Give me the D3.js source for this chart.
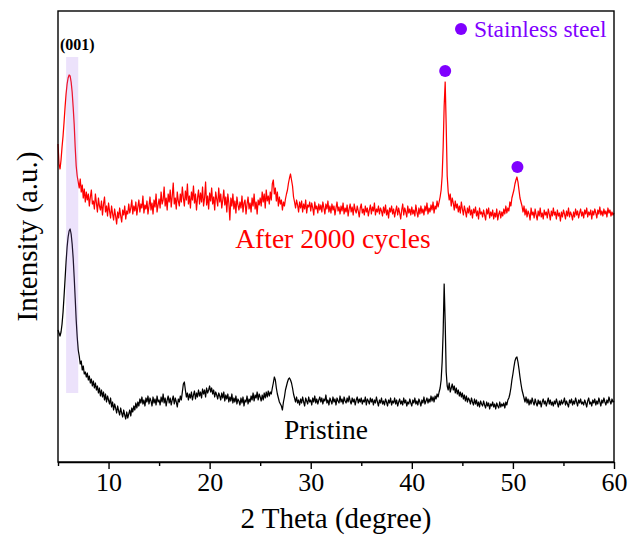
<!DOCTYPE html>
<html>
<head>
<meta charset="utf-8">
<script src="https://cdn.jsdelivr.net/npm/d3@7"></script>
<style>
  html, body { margin: 0; padding: 0; background: #fff; }
  svg { display: block; }
  text { font-family: "Liberation Serif", "Times New Roman", serif; }
</style>
</head>
<body>
<svg id="chart" width="633" height="542"></svg>
<script>
// ---------------- data ----------------
const twoThetaStart = 5.0;      // degrees
const twoThetaStep = 0.1;       // degrees, sampling of both patterns

// Pristine pattern (displayed intensity, a.u.), one row per degree from 5 to 59, then 60
const pristine = [
1320,1290,1260,1300,1380,1500,1660,1830,2000,2150,
2250,2310,2330,2280,2180,2040,1850,1640,1420,1250,
1120,1060,980,1010,920,960,880,900,850,890,
820,860,790,830,760,810,740,790,720,760,
690,740,660,720,650,700,620,680,600,660,
620,580,640,550,600,520,580,540,490,560,
510,470,540,490,450,520,470,430,500,440,
480,520,460,540,500,560,520,590,540,600,
560,630,590,650,580,620,560,640,600,660,
580,640,610,560,650,590,630,570,660,600,
620,570,650,600,680,590,640,560,620,660,
590,640,570,620,660,580,640,600,550,630,
600,660,620,700,780,800,720,650,690,620,
680,640,700,620,670,710,630,690,650,720,
660,700,640,730,680,720,650,740,690,720,
760,700,740,680,720,650,700,670,630,690,
660,620,690,640,700,610,670,630,680,600,
650,610,680,590,640,600,660,580,630,610,
570,640,590,650,560,620,600,660,580,630,
600,660,620,690,610,670,640,700,620,680,
650,610,670,620,690,640,700,650,710,660,
700,680,740,790,850,820,740,680,640,600,
580,560,520,600,650,720,760,800,830,840,
820,790,740,680,640,600,650,590,620,570,
630,590,650,600,560,640,610,580,650,600,
620,570,640,600,660,590,630,580,620,650,
600,640,580,630,610,670,590,620,570,640,
610,580,650,600,630,570,640,610,590,660,
600,630,580,650,610,590,640,600,660,610,
580,640,600,630,570,620,650,590,630,600,
640,580,620,600,650,570,630,610,580,640,
600,630,570,620,590,650,600,560,620,590,
640,580,610,570,630,600,560,620,590,640,
570,610,590,640,580,620,560,600,630,580,
610,570,640,590,620,560,600,580,630,590,
560,620,590,640,580,610,570,630,600,560,
620,590,650,580,610,640,590,630,600,660,
610,650,600,660,630,680,650,700,740,820,
1000,1300,1780,1400,900,760,720,790,700,740,
780,720,760,690,740,680,720,660,700,650,
690,630,670,610,660,600,640,620,580,640,
600,570,630,580,620,560,600,550,610,580,
560,610,570,540,600,560,590,530,580,560,
600,550,580,530,590,560,540,600,550,580,
560,590,540,600,570,620,640,680,740,820,
880,950,1010,1040,1050,1000,930,850,780,720,
680,640,600,650,590,630,570,620,580,640,
600,570,630,590,560,620,580,610,550,600,
630,580,610,560,600,640,580,620,570,600,
560,610,580,630,590,550,610,570,620,580,
600,640,570,610,580,550,620,590,630,570,
610,580,640,600,560,620,590,630,580,600,
570,620,590,550,610,640,580,600,560,620,
590,630,570,610,580,640,600,560,620,590,
640,600,570,620,590,650,610,580,630,600,
610
];

// After 2000 cycles pattern (displayed intensity incl. vertical offset, a.u.)
const cycled = [
3180,2980,2930,3020,3150,3260,3400,3550,3680,3780,
3840,3870,3860,3800,3700,3550,3380,3150,2960,2860,
2800,2740,2830,2700,2770,2640,2730,2600,2700,2620,
2680,2560,2650,2720,2580,2610,2530,2680,2590,2500,
2640,2560,2520,2610,2470,2580,2650,2500,2560,2460,
2590,2510,2440,2560,2480,2420,2530,2460,2380,2500,
2440,2540,2460,2400,2520,2470,2560,2430,2510,2480,
2580,2490,2540,2620,2480,2560,2510,2600,2470,2550,
2620,2500,2580,2540,2660,2490,2570,2530,2610,2480,
2560,2650,2520,2590,2480,2620,2550,2680,2500,2570,
2630,2540,2700,2580,2620,2750,2560,2640,2520,2680,
2600,2720,2550,2660,2790,2580,2640,2530,2700,2610,
2560,2680,2600,2750,2640,2560,2710,2620,2780,2580,
2660,2540,2700,2620,2760,2590,2680,2520,2640,2720,
2580,2690,2600,2750,2560,2640,2800,2570,2660,2530,
2690,2610,2740,2580,2650,2520,2700,2630,2560,2740,
2600,2680,2540,2620,2720,2570,2650,2500,2680,2590,
2420,2640,2560,2680,2530,2610,2490,2650,2570,2520,
2600,2540,2660,2500,2590,2620,2480,2580,2650,2530,
2590,2500,2640,2560,2680,2530,2600,2480,2620,2570,
2640,2560,2700,2600,2680,2540,2720,2610,2660,2580,
2700,2620,2780,2820,2680,2740,2610,2700,2560,2650,
2580,2620,2520,2600,2560,2630,2680,2720,2790,2840,
2880,2820,2760,2650,2600,2540,2620,2570,2500,2600,
2540,2610,2500,2580,2530,2620,2490,2570,2550,2600,
2510,2590,2540,2470,2600,2530,2560,2490,2580,2520,
2570,2500,2600,2540,2480,2580,2530,2610,2500,2560,
2490,2580,2520,2560,2470,2540,2600,2510,2550,2480,
2560,2510,2590,2480,2540,2500,2570,2460,2530,2580,
2500,2550,2470,2580,2520,2490,2560,2510,2450,2540,
2580,2490,2530,2470,2560,2500,2540,2460,2520,2570,
2480,2550,2510,2590,2470,2530,2500,2560,2480,2540,
2510,2460,2550,2490,2570,2470,2520,2440,2540,2500,
2560,2480,2530,2450,2510,2560,2470,2540,2490,2430,
2520,2580,2470,2540,2500,2450,2560,2490,2530,2470,
2550,2480,2520,2460,2570,2500,2450,2540,2480,2560,
2490,2530,2470,2560,2510,2590,2480,2540,2500,2570,
2520,2600,2490,2560,2530,2610,2550,2600,2650,2720,
2860,3150,3560,3800,3370,2860,2700,2620,2680,2560,
2640,2590,2520,2610,2540,2580,2500,2560,2490,2600,
2530,2470,2560,2510,2450,2540,2490,2560,2470,2520,
2440,2530,2490,2550,2460,2510,2430,2540,2480,2500,
2450,2520,2470,2420,2530,2480,2540,2440,2500,2460,
2520,2430,2490,2450,2530,2420,2480,2510,2440,2500,
2460,2530,2480,2560,2490,2540,2510,2600,2560,2640,
2680,2720,2780,2820,2850,2800,2720,2640,2600,2560,
2500,2560,2470,2530,2450,2510,2480,2420,2540,2470,
2500,2440,2530,2470,2420,2510,2460,2540,2450,2490,
2430,2520,2470,2500,2440,2530,2480,2420,2510,2460,
2540,2470,2500,2430,2520,2460,2490,2410,2500,2450,
2520,2480,2430,2510,2460,2540,2450,2500,2470,2420,
2500,2450,2530,2470,2510,2440,2490,2530,2460,2500,
2440,2520,2480,2540,2450,2500,2470,2520,2430,2510,
2470,2530,2490,2440,2520,2480,2550,2470,2510,2460,
2530,2480,2510,2450,2540,2490,2520,2460,2500,2470,
2490
];

// Stainless steel reflections (marker positions)
const steelTheta = [43.3, 50.45];
const steelIntensity = [3910, 2950];

// (001) highlight band
const bandTheta = [5.8, 7.0];
const bandIntensity = [690, 4050];

const xTicks = [10, 20, 30, 40, 50, 60];
const xMinorTicks = [5, 15, 25, 35, 45, 55];
const xDomain = [5, 60];
const yDomain = [0, 4510];

// ---------------- layout ----------------
const W = 633, H = 542;
const margin = { left: 58, right: 19, top: 11, bottom: 80 };
const svg = d3.select("#chart");

const x = d3.scaleLinear().domain(xDomain).range([margin.left, W - margin.right]);
const y = d3.scaleLinear().domain(yDomain).range([H - margin.bottom, margin.top]);

const theta = i => twoThetaStart + i * twoThetaStep;

const line = d3.line()
  .x((d, i) => x(theta(i)))
  .y(d => y(d));

// curves
svg.append("path").datum(pristine)
  .attr("d", line).attr("fill", "none")
  .attr("stroke", "#000").attr("stroke-width", 1.25).attr("stroke-linejoin", "round");

svg.append("path").datum(cycled)
  .attr("d", line).attr("fill", "none")
  .attr("stroke", "#ff0000").attr("stroke-width", 1.25).attr("stroke-linejoin", "round");

// highlight band
svg.append("rect")
  .attr("x", x(bandTheta[0]))
  .attr("y", y(bandIntensity[1]))
  .attr("width", x(bandTheta[1]) - x(bandTheta[0]))
  .attr("height", y(bandIntensity[0]) - y(bandIntensity[1]))
  .attr("fill", "rgba(160,110,235,0.2)");

// steel markers
svg.selectAll("circle.steel").data(steelTheta).enter().append("circle")
  .attr("class", "steel")
  .attr("cx", d => x(d))
  .attr("cy", (d, i) => y(steelIntensity[i]))
  .attr("r", 6)
  .attr("fill", "#7f00ff");

// frame
const plotBottom = H - margin.bottom;
svg.append("rect")
  .attr("x", margin.left).attr("y", margin.top)
  .attr("width", W - margin.left - margin.right)
  .attr("height", plotBottom - margin.top)
  .attr("fill", "none").attr("stroke", "#000").attr("stroke-width", 1.4);

// x axis
const xAxis = d3.axisBottom(x).tickValues(xTicks).tickSize(7).tickSizeOuter(0).tickPadding(4);
const gx = svg.append("g").attr("transform", `translate(0,${plotBottom})`).call(xAxis);
gx.select(".domain").attr("stroke-width", 1.4);
gx.selectAll(".tick line").attr("stroke-width", 1.4);
gx.selectAll(".tick text")
  .attr("font-family", "'Liberation Serif', 'Times New Roman', serif")
  .attr("font-size", 26).attr("fill", "#000");

const xMinor = d3.axisBottom(x).tickValues(xMinorTicks).tickSize(4).tickSizeOuter(0).tickFormat("");
const gxm = svg.append("g").attr("transform", `translate(0,${plotBottom})`).call(xMinor);
gxm.select(".domain").remove();
gxm.selectAll(".tick line").attr("stroke-width", 1.4);

// axis titles
svg.append("text")
  .attr("x", (margin.left + W - margin.right) / 2).attr("y", 528)
  .attr("text-anchor", "middle").attr("font-size", 29).attr("fill", "#000")
  .text("2 Theta (degree)");

svg.append("text")
  .attr("transform", `translate(37,${(margin.top + plotBottom) / 2}) rotate(-90)`)
  .attr("text-anchor", "middle").attr("font-size", 29).attr("fill", "#000")
  .text("Intensity (a.u.)");

// annotations
svg.append("text")
  .attr("x", 60).attr("y", 50)
  .attr("font-size", 16).attr("font-weight", "bold").attr("fill", "#000")
  .text("(001)");

svg.append("text")
  .attr("x", 333).attr("y", 248)
  .attr("text-anchor", "middle").attr("font-size", 27.5).attr("fill", "#ff0000")
  .text("After 2000 cycles");

svg.append("text")
  .attr("x", 326).attr("y", 439)
  .attr("text-anchor", "middle").attr("font-size", 27.5).attr("fill", "#000")
  .text("Pristine");

// legend
svg.append("circle").attr("cx", 461).attr("cy", 29).attr("r", 6).attr("fill", "#7f00ff");
svg.append("text")
  .attr("x", 474).attr("y", 37)
  .attr("font-size", 23.5).attr("fill", "#7f00ff")
  .text("Stainless steel");
</script>
</body>
</html>
